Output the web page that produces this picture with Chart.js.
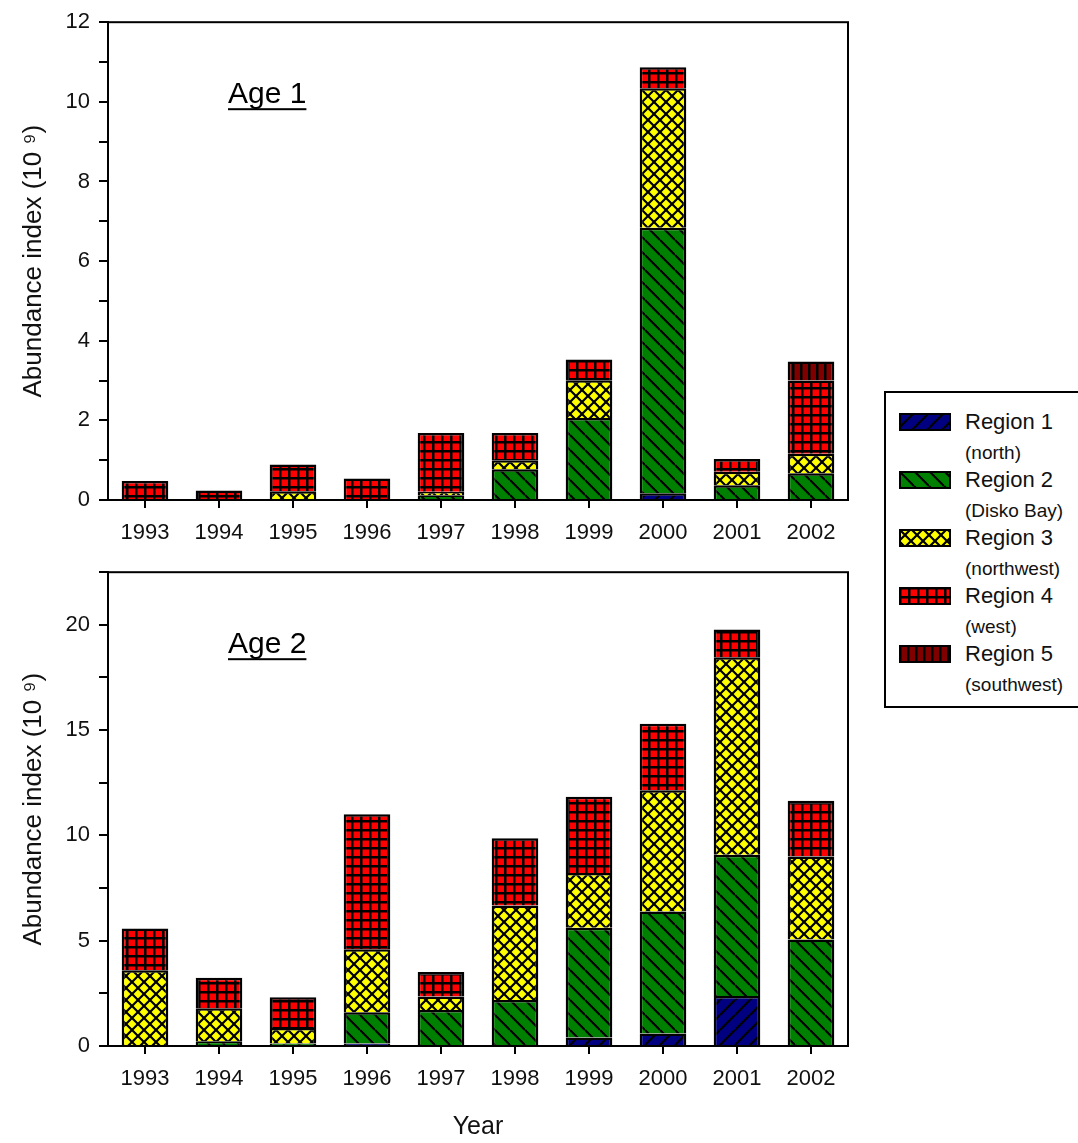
<!DOCTYPE html>
<html>
<head>
<meta charset="utf-8">
<script src="https://cdn.jsdelivr.net/npm/chart.js@4.4.0/dist/chart.umd.min.js"></script>
<style>
    html, body { margin: 0; padding: 0; background: #fff; }
    body { width: 1078px; height: 1143px; overflow: hidden; position: relative; font-family: "Liberation Sans", Arial, sans-serif; }
    #age1 { position: absolute; left: 0; top: 0; }
    #age2 { position: absolute; left: 0; top: 550px; }
    #legend { position: absolute; left: 884px; top: 391px; width: 220px; height: 313px; border: 2px solid #000; }
    #legend canvas { position: absolute; left: 13px; }
    #legend .name { position: absolute; left: 79px; font-size: 22px; line-height: 24px; color: #111; white-space: nowrap; }
    #legend .sub { position: absolute; left: 79px; font-size: 19px; line-height: 22px; color: #111; white-space: nowrap; }
</style>
</head>
<body>
<canvas id="age1" width="860" height="550"></canvas>
<canvas id="age2" width="860" height="593"></canvas>
<div id="legend"></div>

<script>
    "use strict";

    var years = ["1993", "1994", "1995", "1996", "1997", "1998", "1999", "2000", "2001", "2002"];
    var regionNames = ["Region 1", "Region 2", "Region 3", "Region 4", "Region 5"];
    var regionAreas = ["(north)", "(Disko Bay)", "(northwest)", "(west)", "(southwest)"];

    // Age 1 abundance index (10^9) per region
    var age1Region1 = [0, 0, 0, 0, 0, 0, 0, 0.17, 0, 0];
    var age1Region2 = [0, 0, 0, 0, 0.12, 0.77, 2.06, 6.67, 0.37, 0.67];
    var age1Region3 = [0, 0, 0.22, 0, 0.09, 0.23, 0.95, 3.5, 0.34, 0.49];
    var age1Region4 = [0.48, 0.24, 0.67, 0.54, 1.47, 0.68, 0.52, 0.53, 0.32, 1.84];
    var age1Region5 = [0, 0, 0, 0, 0, 0, 0, 0, 0, 0.48];

    // Age 2 abundance index (10^9) per region
    var age2Region1 = [0, 0, 0, 0.12, 0, 0, 0.4, 0.59, 2.37, 0];
    var age2Region2 = [0, 0.22, 0.12, 1.48, 1.71, 2.18, 5.22, 5.8, 6.71, 5.06];
    var age2Region3 = [3.6, 1.57, 0.74, 3.0, 0.64, 4.49, 2.6, 5.76, 9.38, 3.94];
    var age2Region4 = [1.98, 1.45, 1.45, 6.4, 1.17, 3.19, 3.62, 3.15, 1.32, 2.65];
    var age2Region5 = [0, 0, 0, 0, 0, 0, 0, 0, 0, 0];

    var age1Max = 12, age1Step = 1, age1LabelEvery = 2;
    var age2Max = 22.5, age2Step = 2.5, age2LabelEvery = 5;

    var fontFamily = "'Liberation Sans', Arial, sans-serif";

    // hatch fills, drawn on a small tile and repeated
    function makeTile(bg, size, draw) {
        var tile = document.createElement("canvas");
        tile.width = size;
        tile.height = size;
        var t = tile.getContext("2d");
        t.fillStyle = bg;
        t.fillRect(0, 0, size, size);
        t.strokeStyle = "#000";
        t.fillStyle = "#000";
        t.lineWidth = 2.2;
        draw(t, size);
        return t.createPattern(tile, "repeat");
    }
    function back(t, s) {
        t.beginPath();
        for (var k = -1; k <= 1; k++) {
            t.moveTo(0, k * s);
            t.lineTo(s, s + k * s);
        }
        t.stroke();
    }
    function fwd(t, s) {
        t.beginPath();
        for (var k = -1; k <= 1; k++) {
            t.moveTo(0, s + k * s);
            t.lineTo(s, k * s);
        }
        t.stroke();
    }

    var fills = [
        makeTile("#000080", 15, fwd),
        makeTile("#008000", 15, back),
        makeTile("#ffff00", 12, function (t, s) { back(t, s); fwd(t, s); }),
        makeTile("#ff0000", 9, function (t, s) { t.fillRect(0, 0, s, 2.5); t.fillRect(0, 0, 2.5, s); }),
        makeTile("#800000", 8, function (t, s) { t.fillRect(0, 0, 2.5, s); })
    ];

    function makeDatasets(series) {
        return series.map(function (values, i) {
            return {
                label: regionNames[i],
                data: values,
                backgroundColor: fills[i],
                borderColor: "#000",
                borderWidth: 2.5,
                stack: "all"
            };
        });
    }

    // box around plot area + the underlined panel title
    var framePlugin = {
        id: "frame",
        afterDraw: function (chart, args, opts) {
            var a = chart.chartArea;
            var ctx = chart.ctx;
            ctx.save();
            ctx.strokeStyle = "#000";
            ctx.lineWidth = 2;
            ctx.strokeRect(a.left, a.top, a.right - a.left, a.bottom - a.top);
            ctx.font = "30px " + fontFamily;
            ctx.fillStyle = "#000";
            ctx.textBaseline = "alphabetic";
            var x = a.left + 120;
            var y = a.top + 81;
            ctx.fillText(opts.text, x, y);
            var w = ctx.measureText(opts.text).width;
            ctx.fillRect(x, y + 5, w, 2);
            ctx.restore();
        }
    };

    function makeChart(id, series, maxY, step, labelEvery, title, pad, axisHeight, showYear) {
        var ctx = document.getElementById(id).getContext("2d");
        return new Chart(ctx, {
            type: "bar",
            data: {
                labels: years,
                datasets: makeDatasets(series)
            },
            plugins: [framePlugin],
            options: {
                responsive: false,
                animation: false,
                devicePixelRatio: 1,
                layout: { padding: pad },
                datasets: {
                    bar: { categoryPercentage: 1, barPercentage: 0.63 }
                },
                scales: {
                    x: {
                        stacked: true,
                        grid: {
                            display: true,
                            drawOnChartArea: false,
                            drawTicks: true,
                            offset: false,
                            tickLength: 8,
                            color: "#000",
                            lineWidth: 2
                        },
                        border: { display: true, color: "#000", width: 2 },
                        ticks: {
                            color: "#111",
                            padding: 12,
                            maxRotation: 0,
                            font: { family: fontFamily, size: 22 }
                        },
                        title: {
                            display: showYear,
                            text: "Year",
                            color: "#111",
                            padding: { top: 0, bottom: 1 },
                            font: { family: fontFamily, size: 25 }
                        },
                        afterFit: function (scale) { scale.height = axisHeight; }
                    },
                    y: {
                        stacked: true,
                        min: 0,
                        max: maxY,
                        grid: {
                            display: true,
                            drawOnChartArea: false,
                            drawTicks: true,
                            tickLength: 9,
                            color: "#000",
                            lineWidth: 2
                        },
                        border: { display: true, color: "#000", width: 2 },
                        ticks: {
                            stepSize: step,
                            autoSkip: false,
                            color: "#111",
                            padding: 9,
                            font: { family: fontFamily, size: 22 },
                            callback: function (value) {
                                return value % labelEvery === 0 ? value : "";
                            }
                        },
                        title: {
                            display: true,
                            text: "Abundance index (10 \u2079)",
                            color: "#111",
                            padding: { top: 18, bottom: 0 },
                            font: { family: fontFamily, size: 26 }
                        },
                        afterFit: function (scale) { scale.width = 108; }
                    }
                },
                plugins: {
                    legend: { display: false },
                    tooltip: { enabled: false },
                    frame: { text: title }
                }
            }
        });
    }

    makeChart("age1",
        [age1Region1, age1Region2, age1Region3, age1Region4, age1Region5],
        age1Max, age1Step, age1LabelEvery, "Age 1",
        { left: 0, right: 12, top: 19, bottom: 0 }, 50, false);

    makeChart("age2",
        [age2Region1, age2Region2, age2Region3, age2Region4, age2Region5],
        age2Max, age2Step, age2LabelEvery, "Age 2",
        { left: 0, right: 12, top: 15, bottom: 0 }, 97, true);

    // legend: swatch + region name + area name
    var legend = document.getElementById("legend");
    regionNames.forEach(function (name, i) {
        var cy = 29 + i * 58;
        var sw = document.createElement("canvas");
        sw.width = 52;
        sw.height = 18;
        sw.style.top = (cy - 9) + "px";
        var c = sw.getContext("2d");
        c.fillStyle = fills[i];
        c.fillRect(0, 0, 52, 18);
        c.strokeStyle = "#000";
        c.lineWidth = 2;
        c.strokeRect(1, 1, 50, 16);
        legend.appendChild(sw);

        var n = document.createElement("div");
        n.className = "name";
        n.textContent = name;
        n.style.top = (cy - 12) + "px";
        legend.appendChild(n);

        var s = document.createElement("div");
        s.className = "sub";
        s.textContent = regionAreas[i];
        s.style.top = (cy + 31 - 11) + "px";
        legend.appendChild(s);
    });
</script>
</body>
</html>
